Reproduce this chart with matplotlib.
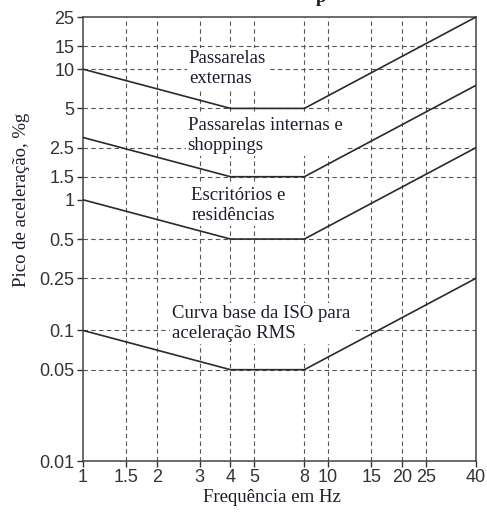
import matplotlib
matplotlib.use("Agg")
import matplotlib.pyplot as plt
from matplotlib.ticker import FixedLocator, FixedFormatter, NullLocator

# Curve data (frequency in Hz, peak acceleration in %g)
freq = [1, 4, 8, 40]
outdoor = [10, 5, 5, 25]
indoor = [3, 1.5, 1.5, 7.5]
office = [1, 0.5, 0.5, 2.5]
iso_base = [0.1, 0.05, 0.05, 0.25]

x_ticks = [1, 1.5, 2, 3, 4, 5, 8, 10, 15, 20, 25, 40]
x_labels = ["1", "1.5", "2", "3", "4", "5", "8", "10", "15", "20", "25", "40"]
y_ticks = [0.01, 0.05, 0.1, 0.25, 0.5, 1, 1.5, 2.5, 5, 10, 15, 25]
y_labels = ["0.01", "0.05", "0.1", "0.25", "0.5", "1", "1.5", "2.5", "5", "10", "15", "25"]
# horizontal grid lines drawn in the original (no line at 1)
y_grid = [0.05, 0.1, 0.25, 0.5, 1.5, 2.5, 5, 10, 15]
x_grid = [1.5, 2, 3, 4, 5, 8, 10, 15, 20, 25]

serif = "Liberation Serif"
sans = "Liberation Sans"
text_col = "#1c1c2c"
line_col = "#2a2a2a"
grid_col = "#555555"

fig = plt.figure(figsize=(4.87, 5.12), dpi=100)
ax = fig.add_axes([0.170, 0.0996, 0.807, 0.867])
ax.set_xscale("log")
ax.set_yscale("log")
ax.set_xlim(1, 40)
ax.set_ylim(0.01, 25)

# dashed grid
for gx in x_grid:
    ax.axvline(gx, color=grid_col, lw=0.8, ls=(0, (4, 3)), zorder=1)
for gy in y_grid:
    ax.axhline(gy, color=grid_col, lw=0.8, ls=(0, (4, 3)), zorder=1)

# curves
for series in [outdoor, indoor, office, iso_base]:
    ax.plot(freq, series, color=line_col, lw=1.2, zorder=4, solid_joinstyle="miter")

# labels on the curves (white boxes hide the grid behind them)
box = dict(facecolor="white", edgecolor="none", pad=1.5)
notes = [
    (0.270, 0.926, "Passarelas\nexternas"),
    (0.267, 0.775, "Passarelas internas e\nshoppings"),
    (0.276, 0.617, "Escritórios e\nresidências"),
    (0.226, 0.351, "Curva base da ISO para\naceleração RMS"),
]
for nx, ny, txt in notes:
    ax.text(nx, ny, txt, transform=ax.transAxes, ha="left", va="top",
            fontsize=13.5, family=serif, color=text_col, bbox=box, zorder=3,
            linespacing=1.2)

# ticks
ax.xaxis.set_major_locator(FixedLocator(x_ticks))
ax.xaxis.set_major_formatter(FixedFormatter(x_labels))
ax.xaxis.set_minor_locator(NullLocator())
ax.yaxis.set_major_locator(FixedLocator(y_ticks))
ax.yaxis.set_major_formatter(FixedFormatter(y_labels))
ax.yaxis.set_minor_locator(NullLocator())
ax.tick_params(direction="out", length=4, width=1, color="#333333",
               labelsize=13, labelcolor="#333333", pad=2)
for lab in ax.get_xticklabels() + ax.get_yticklabels():
    lab.set_family(sans)

for sp in ax.spines.values():
    sp.set_color("#444444")
    sp.set_linewidth(1.1)

ax.set_xlabel("Frequência em Hz", family=serif, fontsize=13.5, color=text_col)
ax.set_ylabel("Pico de aceleração, %g", family=serif, fontsize=13.5, color=text_col)
ax.xaxis.set_label_coords(0.481, -0.064)
ax.yaxis.set_label_coords(-0.135, 0.588)

# cut-off remnant of the title at the top edge
fig.text(0.649, 0.996, "p", family=serif, fontsize=13.5, fontweight="bold",
         color=text_col, va="baseline", ha="left")

fig.savefig("out.png", dpi=100)
